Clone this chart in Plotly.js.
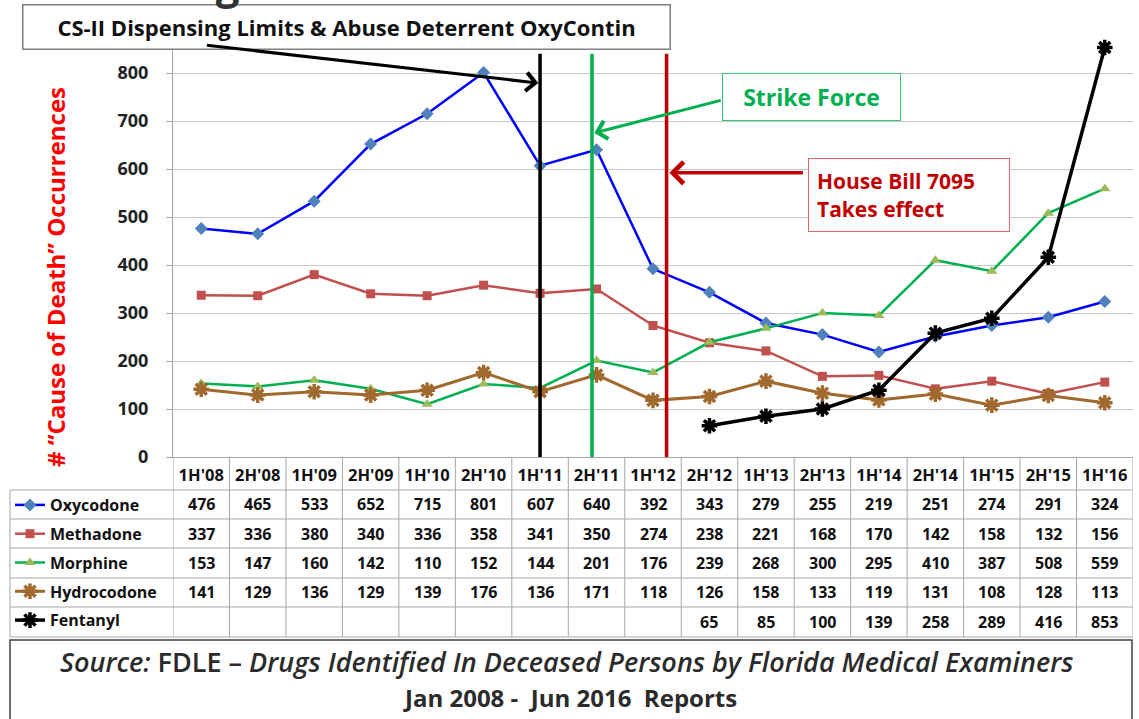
<!DOCTYPE html>
<html>
<head>
<meta charset="utf-8">
<script src="https://cdn.plot.ly/plotly-3.0.1.min.js"></script>
<style>html,body{margin:0;padding:0;background:#fff;}#chart{width:1139px;height:719px;}</style>
</head>
<body>
<div id="chart"></div>
<script>
// ---- data ----
const categories = ["1H'08","2H'08","1H'09","2H'09","1H'10","2H'10","1H'11","2H'11","1H'12","2H'12","1H'13","2H'13","1H'14","2H'14","1H'15","2H'15","1H'16"];
const oxycodone   = [476,465,533,652,715,801,607,640,392,343,279,255,219,251,274,291,324];
const methadone   = [337,336,380,340,336,358,341,350,274,238,221,168,170,142,158,132,156];
const morphine    = [153,147,160,142,110,152,144,201,176,239,268,300,295,410,387,508,559];
const hydrocodone = [141,129,136,129,139,176,136,171,118,126,158,133,119,131,108,128,113];
const fentanyl    = [null,null,null,null,null,null,null,null,null,65,85,100,139,258,289,416,853];
const seriesNames = ["Oxycodone","Methadone","Morphine","Hydrocodone","Fentanyl"];
const yTicks = [0,100,200,300,400,500,600,700,800,900];
const yTickText = ["0","100","200","300","400","500","600","700","800",""];
const eventLabels = ["CS-II Dispensing Limits & Abuse Deterrent OxyContin","Strike Force","House Bill 7095<br>Takes effect"];
const sourceLine1 = "<i>Source:</i> FDLE – <i>Drugs Identified In Deceased Persons by Florida Medical Examiners</i>";
const sourceLine2 = "Jan 2008 -&nbsp; Jun 2016&nbsp; Reports";
const topTitle = "Among Deceased Persons in Florida 2008 to 2016";

// ---- layout helpers (pixel -> paper) ----
const L = 173, R = 1133, T = 25, B = 457;
const px = v => (v - L) / (R - L);
const py = v => (B - v) / (B - T);
const FONT = "'Open Sans', Lato, 'DejaVu Sans', sans-serif";

const allSeries = [oxycodone, methadone, morphine, hydrocodone, fentanyl];
const styles = [
  {line:{color:'#0000FF',width:2.5}, marker:{symbol:'diamond',size:10,color:'#4F81BD'}},
  {line:{color:'#C0504D',width:2.5}, marker:{symbol:'square',size:9,color:'#C0504D'}},
  {line:{color:'#00B050',width:2.5}, marker:{symbol:'triangle-up',size:10,color:'#9BBB59'}},
  {line:{color:'#A0692E',width:3}, marker:{symbol:'asterisk-open',size:13,color:'#A0692E',line:{color:'#A0692E',width:3.5}}},
  {line:{color:'#000000',width:3.5}, marker:{symbol:'asterisk-open',size:13,color:'#000000',line:{color:'#000000',width:3.5}}}
];

const traces = allSeries.map((vals, i) => ({
  type:'scatter', mode:'lines+markers', name: seriesNames[i],
  x: categories, y: vals, line: styles[i].line, marker: styles[i].marker,
  legendgroup: 'g'+i, connectgaps:false
}));

const shapes = [];
const annotations = [];
const gridColor = '#A6A6A6';

// event lines
const events = [
  {x:6.0, color:'#000000'},
  {x:6.92, color:'#00B050'},
  {x:8.24, color:'#C00000'}
];
events.forEach(e => shapes.push({type:'line', xref:'x', yref:'y', x0:e.x, x1:e.x, y0:0, y1:840, line:{color:e.color,width:3.5}}));

// table grid
const rowLines = [490,519,548,578,607,637];
rowLines.forEach(r => shapes.push({type:'line', xref:'paper', yref:'paper', x0:px(10), x1:1, y0:py(r), y1:py(r), line:{color:gridColor,width:1}}));
for (let i = 0; i <= categories.length; i++) {
  shapes.push({type:'line', xref:'x', yref:'paper', x0:i-0.5, x1:i-0.5, y0:py(457), y1:py(637), line:{color:gridColor,width:1}});
}
shapes.push({type:'line', xref:'paper', yref:'paper', x0:px(10), x1:px(10), y0:py(490), y1:py(637), line:{color:gridColor,width:1}});
// source box
shapes.push({type:'rect', xref:'paper', yref:'paper', x0:px(10), x1:px(1132), y0:py(640), y1:py(722), line:{color:'#404040',width:1.5}, fillcolor:'rgba(0,0,0,0)'});

// table values
const rowCenters = [504,534,563,592,622];
allSeries.forEach((vals, r) => {
  vals.forEach((v, c) => {
    if (v === null) return;
    annotations.push({xref:'x', yref:'paper', x:categories[c], y:py(rowCenters[r]), text:String(v), showarrow:false,
      font:{family:FONT, size:16, color:'#111', weight:'bold'}, xanchor:'center', yanchor:'middle'});
  });
});

// y axis title
annotations.push({xref:'paper', yref:'paper', x:px(55), y:py(277), text:'# “Cause of Death” Occurrences', textangle:-90, showarrow:false,
  font:{family:FONT, size:24, color:'#FF0000', weight:'bold'}, xanchor:'center', yanchor:'middle'});

// event boxes
annotations.push({xref:'paper', yref:'paper', x:px(346), y:py(27), text:'<b>'+eventLabels[0]+'</b>', showarrow:false,
  font:{family:FONT, size:22, color:'#111'}, width:644, height:41, bgcolor:'#FFFFFF', bordercolor:'#7F7F7F', borderwidth:1.5, xanchor:'center', yanchor:'middle'});
annotations.push({xref:'paper', yref:'paper', x:px(811), y:py(97), text:'<b>'+eventLabels[1]+'</b>', showarrow:false,
  font:{family:FONT, size:23, color:'#00B050'}, width:175, height:44, bgcolor:'#FFFFFF', bordercolor:'#3CC47A', borderwidth:1, xanchor:'center', yanchor:'middle'});
annotations.push({xref:'paper', yref:'paper', x:px(909), y:py(195), text:'<b>'+eventLabels[2]+'</b>', showarrow:false, align:'left',
  font:{family:FONT, size:21, color:'#C00000'}, width:184, height:56, borderpad:8, bgcolor:'#FFFFFF', bordercolor:'#E06666', borderwidth:1, xanchor:'center', yanchor:'middle'});

// arrows
annotations.push({xref:'x', yref:'y', x:5.97, y:779, ax:-333, ay:-38, text:'', showarrow:true, arrowhead:4, arrowsize:1.2, arrowwidth:3, arrowcolor:'#000000'});
annotations.push({xref:'x', yref:'y', x:6.96, y:675, ax:128, ay:-33, text:'', showarrow:true, arrowhead:4, arrowsize:1.2, arrowwidth:3, arrowcolor:'#00B050'});
annotations.push({xref:'x', yref:'y', x:8.29, y:592, ax:135, ay:0, text:'', showarrow:true, arrowhead:4, arrowsize:1.2, arrowwidth:3.5, arrowcolor:'#C00000'});

// source text
annotations.push({xref:'paper', yref:'paper', x:px(566), y:py(661), text:sourceLine1, showarrow:false,
  font:{family:FONT, size:27, color:'#2b2b2b', weight:600}, xanchor:'center', yanchor:'middle'});
annotations.push({xref:'paper', yref:'paper', x:px(570), y:py(697), text:sourceLine2, showarrow:false,
  font:{family:FONT, size:24, color:'#2b2b2b', weight:'bold'}, xanchor:'center', yanchor:'middle'});

// clipped top title
annotations.push({xref:'paper', yref:'paper', x:px(1106), y:py(13), text:'<b>'+topTitle+'</b>', showarrow:false,
  font:{family:FONT, size:42, color:'#333'}, xanchor:'right', yanchor:'bottom'});

const layout = {
  width:1139, height:719,
  margin:{l:L, r:1139-R, t:T, b:719-B, pad:0},
  paper_bgcolor:'#FFFFFF', plot_bgcolor:'#FFFFFF',
  font:{family:FONT},
  showlegend:true,
  legend:{x:px(10), y:py(488), xanchor:'left', yanchor:'top', bgcolor:'rgba(0,0,0,0)', tracegroupgap:5,
    font:{family:FONT, size:16, color:'#111', weight:'bold'}, itemwidth:30},
  xaxis:{type:'category', range:[-0.5, categories.length-0.5], showgrid:false, zeroline:false,
    showline:true, linecolor:gridColor, linewidth:1, ticks:'', ticklabelstandoff:3,
    tickfont:{family:FONT, size:16.5, color:'#111', weight:'bold'}, fixedrange:true},
  yaxis:{range:[0,900], tickvals:yTicks, ticktext:yTickText, showgrid:true, gridcolor:'#C8C8C8', gridwidth:1, zeroline:false,
    showline:true, linecolor:gridColor, linewidth:1, ticks:'outside', ticklen:6, tickcolor:gridColor,
    ticklabelstandoff:14, tickfont:{family:FONT, size:18, color:'#222', weight:'bold'}, fixedrange:true},
  shapes: shapes,
  annotations: annotations
};

Plotly.newPlot('chart', traces, layout, {displayModeBar:false, staticPlot:true});
</script>
</body>
</html>
